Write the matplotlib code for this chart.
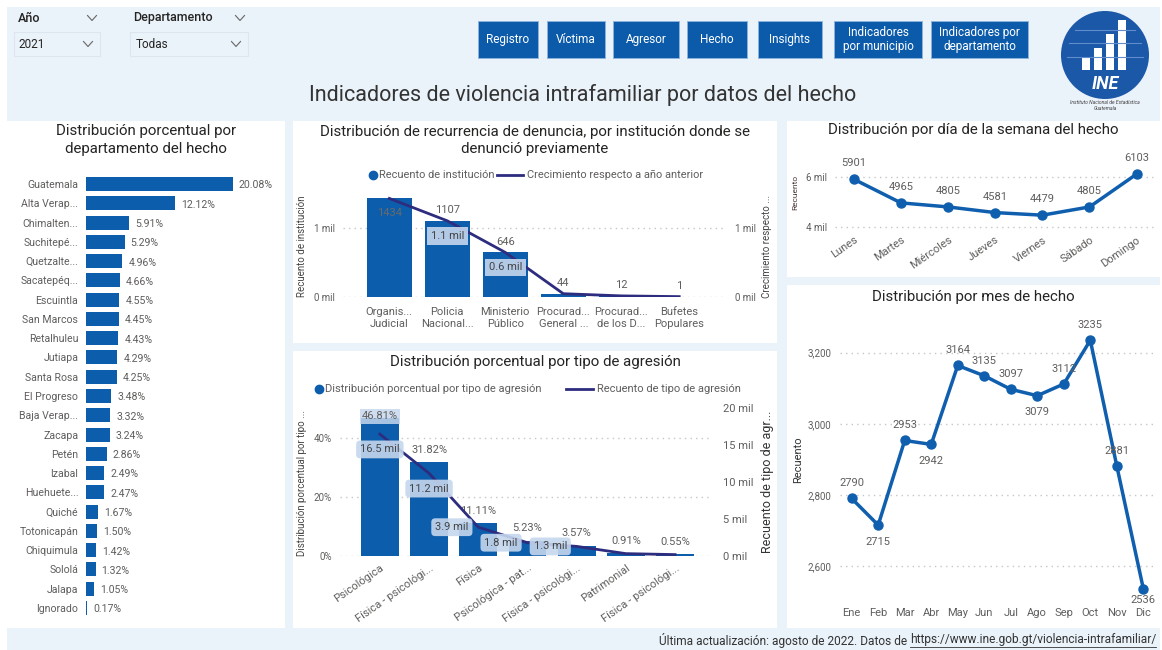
import matplotlib
matplotlib.use('Agg')
import matplotlib.pyplot as plt
from matplotlib.patches import Rectangle, Circle
import numpy as np

# ---------------- data ----------------
dept_names = ['Guatemala', 'Alta Verap...', 'Chimalten...', 'Suchitepé...', 'Quetzalte...',
              'Sacatepéq...', 'Escuintla', 'San Marcos', 'Retalhuleu', 'Jutiapa', 'Santa Rosa',
              'El Progreso', 'Baja Verap...', 'Zacapa', 'Petén', 'Izabal', 'Huehuete...',
              'Quiché', 'Totonicapán', 'Chiquimula', 'Sololá', 'Jalapa', 'Ignorado']
dept_pct = [20.08, 12.12, 5.91, 5.29, 4.96, 4.66, 4.55, 4.45, 4.43, 4.29, 4.25, 3.48, 3.32,
            3.24, 2.86, 2.49, 2.47, 1.67, 1.50, 1.42, 1.32, 1.05, 0.17]

inst_names = ['Organis...\nJudicial', 'Policia\nNacional...', 'Ministerio\nPúblico',
              'Procurad...\nGeneral ...', 'Procurad...\nde los D...', 'Bufetes\nPopulares']
inst_count = [1434, 1107, 646, 44, 12, 1]
inst_growth = [1434, 1107, 646, 44, 12, 1]
inst_growth_shown = [1, 2]

agr_names = ['Psicológica', 'Física - psicológi...', 'Física', 'Psicológica - pat...',
             'Física - psicológi...', 'Patrimonial', 'Física - psicológi...']
agr_pct = [46.81, 31.82, 11.11, 5.23, 3.57, 0.91, 0.55]
agr_count = [16500, 11200, 3900, 1800, 1300, 320, 190]
agr_count_shown = [0, 1, 2, 3, 4]

days = ['Lunes', 'Martes', 'Miércoles', 'Jueves', 'Viernes', 'Sábado', 'Domingo']
day_count = [5901, 4965, 4805, 4581, 4479, 4805, 6103]

months = ['Ene', 'Feb', 'Mar', 'Abr', 'May', 'Jun', 'Jul', 'Ago', 'Sep', 'Oct', 'Nov', 'Dic']
month_count = [2790, 2715, 2953, 2942, 3164, 3135, 3097, 3079, 3112, 3235, 2881, 2536]
month_label_below = [False, True, False, True, False, False, False, True, False, False, False, True]

buttons = ['Registro', 'Víctima', 'Agresor', 'Hecho', 'Insights',
           'Indicadores\npor municipio', 'Indicadores por\ndepartamento']

# ---------------- style ----------------
plt.rcParams['font.family'] = ['Roboto', 'DejaVu Sans']
BLUE = '#0C5DAC'
NAVY = '#2D2C7E'
LBLUE = '#0F5FAE'
GREY = '#605E5C'
DARK = '#252423'
BG = '#EAF2FA'
GRID = '#C8C6C4'
BOXC = '#C6D7EE'
TSIZE = 10.8

W, H = 1162, 650
fig = plt.figure(figsize=(W / 100, H / 100), dpi=100)
fig.patch.set_facecolor('white')
bg = fig.add_axes([0, 0, 1, 1])
bg.set_xlim(0, W)
bg.set_ylim(H, 0)
bg.axis('off')


def pax(x0, y0, x1, y1):
    a = fig.add_axes([x0 / W, 1 - y1 / H, (x1 - x0) / W, (y1 - y0) / H])
    a.set_facecolor('none')
    for s in a.spines.values():
        s.set_visible(False)
    a.tick_params(length=0, colors=GREY, labelsize=7)
    return a


# background + panels
bg.add_patch(Rectangle((7, 7), 1153, 643, color=BG, lw=0))
for (x0, y0, x1, y1) in [(7, 121, 285, 628), (293, 121, 777, 343), (293, 351, 777, 628),
                         (787, 121, 1160, 277), (787, 285, 1160, 628)]:
    bg.add_patch(Rectangle((x0, y0), x1 - x0, y1 - y0, color='white', lw=0))

# ---------------- header ----------------
def chevron(x, y, w=9, h=5):
    bg.plot([x - w / 2, x, x + w / 2], [y - h / 2, y + h / 2, y - h / 2], color='#666666', lw=0.8)

bg.text(18, 18, 'Año', fontsize=9, color=DARK, va='center', ha='left', fontweight='medium')
chevron(92, 18)
bg.add_patch(Rectangle((14, 32), 86, 24, fill=False, ec='#DDE5EE', lw=0.8))
bg.text(18, 45, '2021', fontsize=8.5, color=DARK, va='center', ha='left')
chevron(88, 44)
bg.text(133, 18, 'Departamento', fontsize=9, color=DARK, va='center', ha='left', fontweight='medium')
chevron(240, 18)
bg.add_patch(Rectangle((130, 32), 118, 24, fill=False, ec='#DDE5EE', lw=0.8))
bg.text(136, 45, 'Todas', fontsize=8.5, color=DARK, va='center', ha='left')
chevron(236, 44)

btn_x = [(478, 538), (547, 605), (613, 679), (687, 747), (758, 822), (834, 922), (931, 1028)]
for (bx0, bx1), lab in zip(btn_x, buttons):
    bg.add_patch(Rectangle((bx0, 21), bx1 - bx0, 37, fc='#0B5BAA', ec='#8FB2DC', lw=0.6))
    bg.text((bx0 + bx1) / 2, 39.5, lab, fontsize=8.5, color='white', ha='center', va='center',
            linespacing=1.15)

bg.text(583, 95, 'Indicadores de violencia intrafamiliar por datos del hecho', fontsize=15.5,
        color='#333333', ha='center', va='center')

# logo
bg.add_patch(Circle((1105, 55), 44, color='#1B58A8', lw=0))
for ly in [30, 43, 57]:
    half = np.sqrt(max(44 ** 2 - (ly - 55) ** 2, 0))
    bg.plot([1105 - half + 6, 1105 + half - 6], [ly, ly], color='#5F8CCB', lw=0.8)
for bx, top in zip([1082, 1094, 1106, 1118], [58, 48, 34, 20]):
    bg.add_patch(Rectangle((bx, top), 8, 70 - top, color='white', lw=0))
bg.text(1105, 84, 'INE', fontsize=13, color='white', fontweight='bold', style='italic',
        ha='center', va='center')
bg.text(1105, 103, 'Instituto Nacional de Estadística', fontsize=3.6, color='#444444',
        style='italic', ha='center', va='center')
bg.text(1105, 108, 'Guatemala', fontsize=3.6, color='#444444', style='italic',
        ha='center', va='center')

# ---------------- left: departments ----------------
bg.text(146, 131, 'Distribución porcentual por', fontsize=TSIZE, color=DARK, ha='center', va='center')
bg.text(146, 149, 'departamento del hecho', fontsize=TSIZE, color=DARK, ha='center', va='center')
ax = pax(86, 175, 280, 617)
yy = np.arange(len(dept_names))
ax.barh(yy, dept_pct, height=0.73, color=BLUE)
ax.set_ylim(len(dept_names) - 1 + 0.47, -0.47)
ax.set_xlim(0, 26.5)
ax.set_xticks([])
ax.set_yticks(yy, dept_names)
ax.tick_params(axis='y', labelsize=7.6, pad=5.5)
for i, v in enumerate(dept_pct):
    ax.annotate(f'{v:.2f}%', (v, i), xytext=(4.3, -1), textcoords='offset points',
                va='center', ha='left', fontsize=7.6, color=GREY)

# ---------------- middle top: institutions ----------------
bg.text(535, 132, 'Distribución de recurrencia de denuncia, por institución donde se',
        fontsize=TSIZE, color=DARK, ha='center', va='center')
bg.text(535, 149, 'denunció previamente', fontsize=TSIZE, color=DARK, ha='center', va='center')
bg.plot([373], [175], 'o', color=BLUE, ms=6)
bg.text(379, 175, 'Recuento de institución', fontsize=7.9, color=GREY, va='center', ha='left')
bg.plot([497, 523], [175, 175], color=NAVY, lw=2)
bg.text(527, 175, 'Crecimiento respecto a año anterior', fontsize=7.9, color=GREY,
        va='center', ha='left')

ax = pax(343, 185, 725, 296.7)
xi = np.arange(len(inst_names))
ax.bar(xi, inst_count, width=0.78, color=BLUE, zorder=2)
ax.set_xlim(-0.80, 5.79)
ax.set_ylim(0, 1630)
ax.set_yticks([0, 1000], ['0 mil', '1 mil'])
ax.tick_params(axis='y', pad=5.5)
ax.set_xticks(xi, inst_names)
ax.tick_params(axis='x', labelsize=8, pad=7.5)
for t in ax.get_xticklabels():
    t.set_linespacing(1.25)
ax.yaxis.grid(True, linestyle=(0, (1, 3)), color=GRID, lw=1)
ax.set_axisbelow(True)
ax2 = ax.twinx()
for s in ax2.spines.values():
    s.set_visible(False)
ax2.set_ylim(0, 1630)
ax2.set_yticks([0, 1000], ['0 mil', '1 mil'])
ax2.tick_params(length=0, colors=GREY, labelsize=7, pad=7)
ax2.plot(xi, inst_growth, color=NAVY, lw=2, zorder=3)
imax = int(np.argmax(inst_count))
for i, v in enumerate(inst_count):
    if i == imax:
        ax2.annotate(f'{v}', (i, v), xytext=(0, -10.5), textcoords='offset points', ha='center',
                     va='center', fontsize=8, color='#6A6A6A', zorder=5)
    else:
        ax2.annotate(f'{v}', (i, v), xytext=(0, 7.8), textcoords='offset points', ha='center',
                     va='center', fontsize=8, color=GREY, zorder=5)
for i in inst_growth_shown:
    v = inst_growth[i]
    ax2.annotate(f'{v / 1000:.1f} mil', (i, v), xytext=(0, -10.8), textcoords='offset points',
                 ha='center', va='center', fontsize=8, color='#444444', zorder=6,
                 bbox=dict(boxstyle='square,pad=0.35', fc=BOXC, ec='none', alpha=0.9))
bg.text(302, 246, 'Recuento de institución', rotation=90, fontsize=7, color='#444444',
        ha='center', va='center')
bg.text(767, 246, 'Crecimiento respecto ...', rotation=90, fontsize=7, color='#444444',
        ha='center', va='center')

# ---------------- middle bottom: aggression type ----------------
bg.text(535, 362, 'Distribución porcentual por tipo de agresión', fontsize=TSIZE, color=DARK,
        ha='center', va='center')
bg.plot([319], [389], 'o', color=BLUE, ms=6)
bg.text(325, 389, 'Distribución porcentual por tipo de agresión', fontsize=8, color=GREY,
        va='center', ha='left')
bg.plot([566, 593], [389, 389], color=NAVY, lw=2)
bg.text(597, 389, 'Recuento de tipo de agresión', fontsize=8, color=GREY, va='center', ha='left')

ax = pax(340, 400, 712, 556)
xa = np.arange(len(agr_names))
ax.bar(xa, agr_pct, width=0.77, color=BLUE, zorder=2)
ax.set_xlim(-0.81, 6.75)
ax.set_ylim(0, 53.06)
ax.set_yticks([0, 20, 40], ['0%', '20%', '40%'])
ax.tick_params(axis='y', pad=6)
ax.set_xticks(xa, agr_names)
ax.tick_params(axis='x', labelsize=8, pad=5)
for t in ax.get_xticklabels():
    t.set_rotation(35)
    t.set_ha('right')
    t.set_rotation_mode('anchor')
ax.yaxis.grid(True, linestyle=(0, (1, 3)), color=GRID, lw=1)
ax.set_axisbelow(True)
ax2 = ax.twinx()
for s in ax2.spines.values():
    s.set_visible(False)
ax2.set_ylim(0, 21124)
ax2.set_yticks([0, 5000, 10000, 15000, 20000], ['0 mil', '5 mil', '10 mil', '15 mil', '20 mil'])
ax2.tick_params(length=0, colors=GREY, labelsize=8, pad=8)
ax2.plot(xa, agr_count, color=NAVY, lw=2, zorder=3)
amax = int(np.argmax(agr_pct))
for i, v in enumerate(agr_pct):
    off = 1.5 if i == amax else 9
    ax.annotate(f'{v:.2f}%', (i, v), xytext=(0, off), textcoords='offset points', ha='center',
                va='center', fontsize=8, color=GREY, zorder=5,
                bbox=(dict(boxstyle='square,pad=0.2', fc=BOXC, ec='none', alpha=0.85)
                      if i == amax else None))
for i in agr_count_shown:
    v = agr_count[i]
    if i < 2:
        xy_off, ha = (0, -11), 'center'
    else:
        xy_off, ha = (-7, 0), 'right'
    ax2.annotate(f'{v / 1000:.1f} mil', (i, v), xytext=xy_off, textcoords='offset points',
                 ha=ha, va='center', fontsize=8, color='#444444', zorder=6,
                 bbox=dict(boxstyle='round,pad=0.35', fc=BOXC, ec='none', alpha=0.9))
bg.text(302, 483, 'Distribución porcentual por tipo ...', rotation=90, fontsize=7,
        color='#444444', ha='center', va='center')
bg.text(767, 482, 'Recuento de tipo de agr...', rotation=90, fontsize=9, color='#333333',
        ha='center', va='center')

# ---------------- right top: weekdays ----------------
bg.text(973, 130, 'Distribución por día de la semana del hecho', fontsize=TSIZE, color=DARK,
        ha='center', va='center')
ax = pax(835, 140, 1155, 232)
xd = np.arange(len(days))
ax.plot(xd, day_count, color=LBLUE, lw=2.5, marker='o', ms=6.5)
ax.set_xlim(-0.40, 6.39)
ax.set_ylim(3814, 7451)
ax.set_yticks([4000, 6000], ['4 mil', '6 mil'])
ax.tick_params(axis='y', pad=6)
ax.yaxis.grid(True, linestyle=(0, (1, 3)), color=GRID, lw=1)
ax.set_axisbelow(True)
ax.set_xticks(xd, days)
ax.tick_params(axis='x', labelsize=8, pad=2)
for t in ax.get_xticklabels():
    t.set_rotation(35)
    t.set_ha('right')
    t.set_rotation_mode('anchor')
for i, v in enumerate(day_count):
    ax.annotate(f'{v}', (i, v), xytext=(0, 11.5), textcoords='offset points', ha='center',
                va='center', fontsize=8, color=GREY)
bg.text(795, 192, 'Recuento', rotation=90, fontsize=6, color='#4A3535', ha='center', va='center')

# ---------------- right bottom: months ----------------
bg.text(973, 297, 'Distribución por mes de hecho', fontsize=TSIZE, color=DARK,
        ha='center', va='center')
ax = pax(840, 315, 1155, 602)
xm = np.arange(len(months))
ax.plot(xm, month_count, color=LBLUE, lw=2.5, marker='o', ms=6.5)
ax.set_xlim(-0.44, 11.44)
ax.set_ylim(2498.7, 3306)
ax.set_yticks([2600, 2800, 3000, 3200], ['2,600', '2,800', '3,000', '3,200'])
ax.tick_params(axis='y', pad=6)
ax.yaxis.grid(True, linestyle=(0, (1, 3)), color=GRID, lw=1)
ax.set_axisbelow(True)
ax.set_xticks(xm, months)
ax.tick_params(axis='x', labelsize=8, pad=4.5)
# keep labels below points from dropping far under the plot area (as Power BI does)
y_lo = ax.get_ylim()[0]
px_per_unit = ax.bbox.height / (ax.get_ylim()[1] - y_lo)
for i, v in enumerate(month_count):
    if month_label_below[i]:
        room_pt = (v - y_lo) * px_per_unit * 0.72 - 1.5
        dy = -max(min(12, room_pt), 8)
    else:
        dy = 11
    ax.annotate(f'{v}', (i, v), xytext=(0, dy), textcoords='offset points', ha='center',
                va='center', fontsize=8, color=GREY)
bg.text(798, 460, 'Recuento', rotation=90, fontsize=8, color='#333333', ha='center', va='center')

# ---------------- footer ----------------
link = bg.text(1156, 640, 'https://www.ine.gob.gt/violencia-intrafamiliar/', fontsize=8.6,
               color='#333333', ha='right', va='center')
fig.canvas.draw()
r = fig.canvas.get_renderer()
bb = link.get_window_extent(r)
inv = bg.transData.inverted()
(lx0, _), (lx1, _) = inv.transform([(bb.x0, bb.y0), (bb.x1, bb.y0)])
bg.plot([lx0, lx1], [646.5, 646.5], color='#333333', lw=0.6)
bg.text(lx0, 640, 'Última actualización: agosto de 2022. Datos de ', fontsize=8.6,
        color='#333333', ha='right', va='center')

fig.savefig('out.png', dpi=100, facecolor='white')
